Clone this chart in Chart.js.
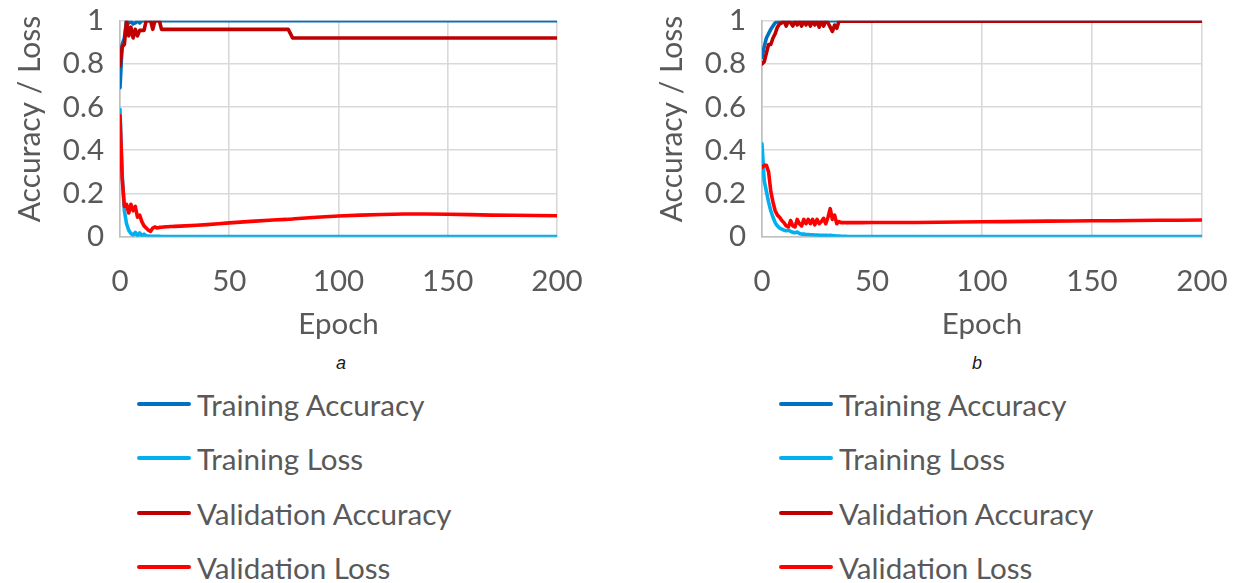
<!DOCTYPE html>
<html>
<head>
<meta charset="utf-8">
<script src="https://cdn.jsdelivr.net/npm/chart.js@4.4.1/dist/chart.umd.min.js"></script>
<style>
  html, body { margin: 0; padding: 0; background: #ffffff; }
  body { width: 1234px; height: 583px; position: relative; overflow: hidden; font-family: Lato, "Open Sans", sans-serif; }
  .panel { position: absolute; top: 0; width: 617px; height: 583px; }
  .panel canvas { position: absolute; left: 0; top: 0; }
  .tag { position: absolute; top: 353px; width: 30px; text-align: center; font: italic 18px "Liberation Sans", Arial, sans-serif; color: #1a1a1a; }
  .item { position: absolute; height: 34px; display: flex; align-items: center; white-space: nowrap; color: #595959; font-size: 29.6px; font-family: Lato, sans-serif; }
  .swatch { width: 54px; height: 4px; border-radius: 2px; margin-right: 6px; flex: none; }
</style>
</head>
<body>
<div class="panel" id="panelA" style="left:0px">
  <canvas id="chartA" width="617" height="345"></canvas>
  <div class="tag" style="left:326px">a</div>
</div>
<div class="panel" id="panelB" style="left:617px">
  <canvas id="chartB" width="617" height="345"></canvas>
  <div class="tag" style="left:345px">b</div>
</div>
<script>
// Series names and colours (shared by both panels)
const seriesNames  = ['Training Accuracy', 'Training Loss', 'Validation Accuracy', 'Validation Loss'];
const seriesColors = ['#0070C0', '#00B0F0', '#C00000', '#FF0000'];

// Axis ticks
const xTickValues = [0, 50, 100, 150, 200];
const yTickValues = [0, 0.2, 0.4, 0.6, 0.8, 1];

// ---- Panel a ----
const epochsA = [0,1,2,3,4,5,6,7,8,9,10,11,12,13,14,15,16,17,18,19,20,21,22,23,24,25,
  30,35,40,45,50,60,70,76,77,78,79,80,90,100,110,120,130,140,150,160,170,180,190,200];

const trainAccA = [0.69,0.89,0.92,1.0,0.99,1.0,0.985,0.99,1.0,0.99,1.0,1.0,1.0,1.0,1.0,1.0,1.0,1.0,1.0,1.0,1.0,1.0,1.0,1.0,1.0,1.0,
  1.0,1.0,1.0,1.0,1.0,1.0,1.0,1.0,1.0,1.0,1.0,1.0,1.0,1.0,1.0,1.0,1.0,1.0,1.0,1.0,1.0,1.0,1.0,1.0];

const trainLossA = [0.59,0.29,0.12,0.06,0.03,0.015,0.008,0.02,0.005,0.018,0.004,0.012,0.004,0.003,0.002,0.002,0.002,0.0015,0.0015,0.001,0.001,0.001,0.001,0.001,0.001,0.001,
  0.001,0.001,0.001,0.001,0.001,0.001,0.001,0.001,0.001,0.001,0.001,0.001,0.001,0.001,0.001,0.001,0.001,0.001,0.001,0.001,0.001,0.001,0.001,0.001];

const valAccA = [0.79,0.88,0.89,1.0,0.93,0.97,0.92,0.96,0.93,0.955,0.955,0.955,1.0,1.0,1.0,0.96,1.0,1.0,1.0,0.96,0.96,0.96,0.96,0.96,0.96,0.96,
  0.96,0.96,0.96,0.96,0.96,0.96,0.96,0.96,0.96,0.94,0.92,0.92,0.92,0.92,0.92,0.92,0.92,0.92,0.92,0.92,0.92,0.92,0.92,0.92];

const valLossA = [0.56,0.27,0.14,0.15,0.11,0.15,0.12,0.14,0.09,0.10,0.07,0.05,0.04,0.03,0.025,0.04,0.045,0.04,0.043,0.044,0.045,0.046,0.046,0.047,0.047,0.048,
  0.05,0.053,0.056,0.06,0.064,0.071,0.077,0.08,0.081,0.081,0.082,0.083,0.09,0.096,0.1,0.103,0.105,0.105,0.104,0.102,0.1,0.099,0.098,0.097];

// ---- Panel b ----
const epochsB = [0,1,2,3,4,5,6,7,8,9,10,11,12,13,14,15,16,17,18,19,20,21,22,23,24,25,26,27,28,29,30,31,32,33,34,35,36,37,38,39,40,
  45,50,60,70,80,90,100,110,120,130,140,150,160,170,180,190,200];

const trainAccB = [0.83,0.88,0.92,0.94,0.96,0.975,0.99,0.995,1.0,1.0,1.0,1.0,1.0,1.0,1.0,1.0,1.0,1.0,1.0,1.0,1.0,1.0,1.0,1.0,1.0,1.0,1.0,1.0,1.0,1.0,1.0,1.0,1.0,1.0,1.0,1.0,1.0,1.0,1.0,1.0,1.0,
  1.0,1.0,1.0,1.0,1.0,1.0,1.0,1.0,1.0,1.0,1.0,1.0,1.0,1.0,1.0,1.0,1.0];

const trainLossB = [0.43,0.26,0.21,0.16,0.12,0.09,0.065,0.05,0.04,0.035,0.03,0.028,0.03,0.025,0.02,0.018,0.022,0.015,0.012,0.012,0.01,0.01,0.009,0.009,0.008,0.008,0.007,0.007,0.006,0.006,0.005,0.007,0.005,0.004,0.003,0.003,0.002,0.002,0.002,0.001,0.001,
  0.001,0.001,0.001,0.001,0.001,0.001,0.001,0.001,0.001,0.001,0.001,0.001,0.001,0.001,0.001,0.001,0.001];

const valAccB = [0.80,0.81,0.85,0.89,0.89,0.92,0.94,0.97,0.985,0.99,1.0,0.975,1.0,0.99,0.975,1.0,0.98,1.0,0.975,1.0,0.98,1.0,0.975,1.0,0.98,1.0,0.97,1.0,0.975,1.0,0.99,0.97,0.95,0.98,0.965,0.998,0.998,0.998,0.998,0.998,0.998,
  0.998,0.998,0.998,0.998,0.998,0.998,0.998,0.998,0.998,0.998,0.998,0.998,0.998,0.998,0.998,0.998,0.998];

const valLossB = [0.32,0.33,0.33,0.30,0.21,0.16,0.12,0.10,0.09,0.075,0.065,0.05,0.045,0.075,0.05,0.045,0.08,0.06,0.05,0.08,0.06,0.08,0.06,0.08,0.055,0.08,0.06,0.07,0.085,0.06,0.09,0.13,0.08,0.10,0.06,0.07,0.065,0.065,0.065,0.065,0.065,
  0.065,0.066,0.066,0.066,0.067,0.068,0.069,0.07,0.071,0.072,0.073,0.074,0.074,0.075,0.076,0.076,0.077];

const TEXT = '#595959';
const FONT_FAMILY = 'Lato, "Open Sans", sans-serif';

// Rotated value-axis title, centred where the panel wants it
const yTitlePlugin = {
  id: 'yTitle',
  afterDraw(chart, args, opts) {
    const ctx = chart.ctx;
    ctx.save();
    ctx.translate(opts.x, opts.y);
    ctx.rotate(-Math.PI / 2);
    ctx.font = '30px ' + FONT_FAMILY;
    ctx.fillStyle = TEXT;
    ctx.textAlign = 'center';
    ctx.textBaseline = 'middle';
    ctx.fillText(opts.text, 0, 0);
    ctx.restore();
  }
};

function buildPanel(canvasId, panelId, epochs, valueSets, geom) {
  const datasets = valueSets.map((vals, i) => ({
    label: seriesNames[i],
    data: epochs.map((e, k) => ({ x: e, y: vals[k] })),
    borderColor: seriesColors[i],
    backgroundColor: seriesColors[i],
    borderWidth: 3.6,
    pointRadius: 0,
    tension: 0,
    borderCapStyle: 'round',
    borderJoinStyle: 'round',
    order: 4 - i
  }));

  const chart = new Chart(document.getElementById(canvasId), {
    type: 'line',
    data: { datasets },
    plugins: [yTitlePlugin],
    options: {
      responsive: false,
      animation: false,
      layout: { padding: { left: 0, right: geom.padRight, top: 20.7, bottom: 0 } },
      plugins: {
        legend: { display: false },
        tooltip: { enabled: false },
        yTitle: { text: 'Accuracy / Loss', x: geom.titleX, y: 119 }
      },
      scales: {
        x: {
          type: 'linear', min: 0, max: 200,
          afterBuildTicks: s => { s.ticks = xTickValues.map(v => ({ value: v })); },
          afterFit: s => { s.height = 108.3; s.paddingLeft = 0; s.paddingRight = 0; },
          grid: { color: '#D9D9D9', lineWidth: 1.6, drawTicks: false },
          border: { color: '#BFBFBF', width: 1.6 },
          ticks: { color: TEXT, font: { family: FONT_FAMILY, size: 29.5 }, padding: 27, maxRotation: 0 },
          title: { display: true, text: 'Epoch', color: TEXT, font: { family: FONT_FAMILY, size: 29.5 }, padding: { top: 0, bottom: 3 } }
        },
        y: {
          type: 'linear', min: 0, max: 1,
          afterBuildTicks: s => { s.ticks = yTickValues.map(v => ({ value: v })); },
          afterFit: s => { s.width = geom.yWidth; s.paddingTop = 0; s.paddingBottom = 0; },
          grid: { color: '#D9D9D9', lineWidth: 1.6, drawTicks: false },
          border: { color: '#BFBFBF', width: 1.6 },
          ticks: { color: TEXT, font: { family: FONT_FAMILY, size: 29.5 }, padding: 16,
                   callback: v => String(Math.round(v * 10) / 10) }
        }
      }
    }
  });

  // Vertical legend under the plot, built from the chart's own datasets
  const panel = document.getElementById(panelId);
  const rowCentres = [404, 458, 513, 567];
  chart.data.datasets.forEach((ds, i) => {
    const row = document.createElement('div');
    row.className = 'item';
    row.style.left = geom.legendLeft + 'px';
    row.style.top = (rowCentres[i] - 17) + 'px';
    const sw = document.createElement('span');
    sw.className = 'swatch';
    sw.style.background = ds.borderColor;
    const txt = document.createElement('span');
    txt.textContent = ds.label;
    row.appendChild(sw);
    row.appendChild(txt);
    panel.appendChild(row);
  });
  return chart;
}

buildPanel('chartA', 'panelA', epochsA, [trainAccA, trainLossA, valAccA, valLossA],
  { yWidth: 120, padRight: 60, titleX: 30, legendLeft: 137 });
buildPanel('chartB', 'panelB', epochsB, [trainAccB, trainLossB, valAccB, valLossB],
  { yWidth: 145, padRight: 32, titleX: 55, legendLeft: 162 });
</script>
</body>
</html>
